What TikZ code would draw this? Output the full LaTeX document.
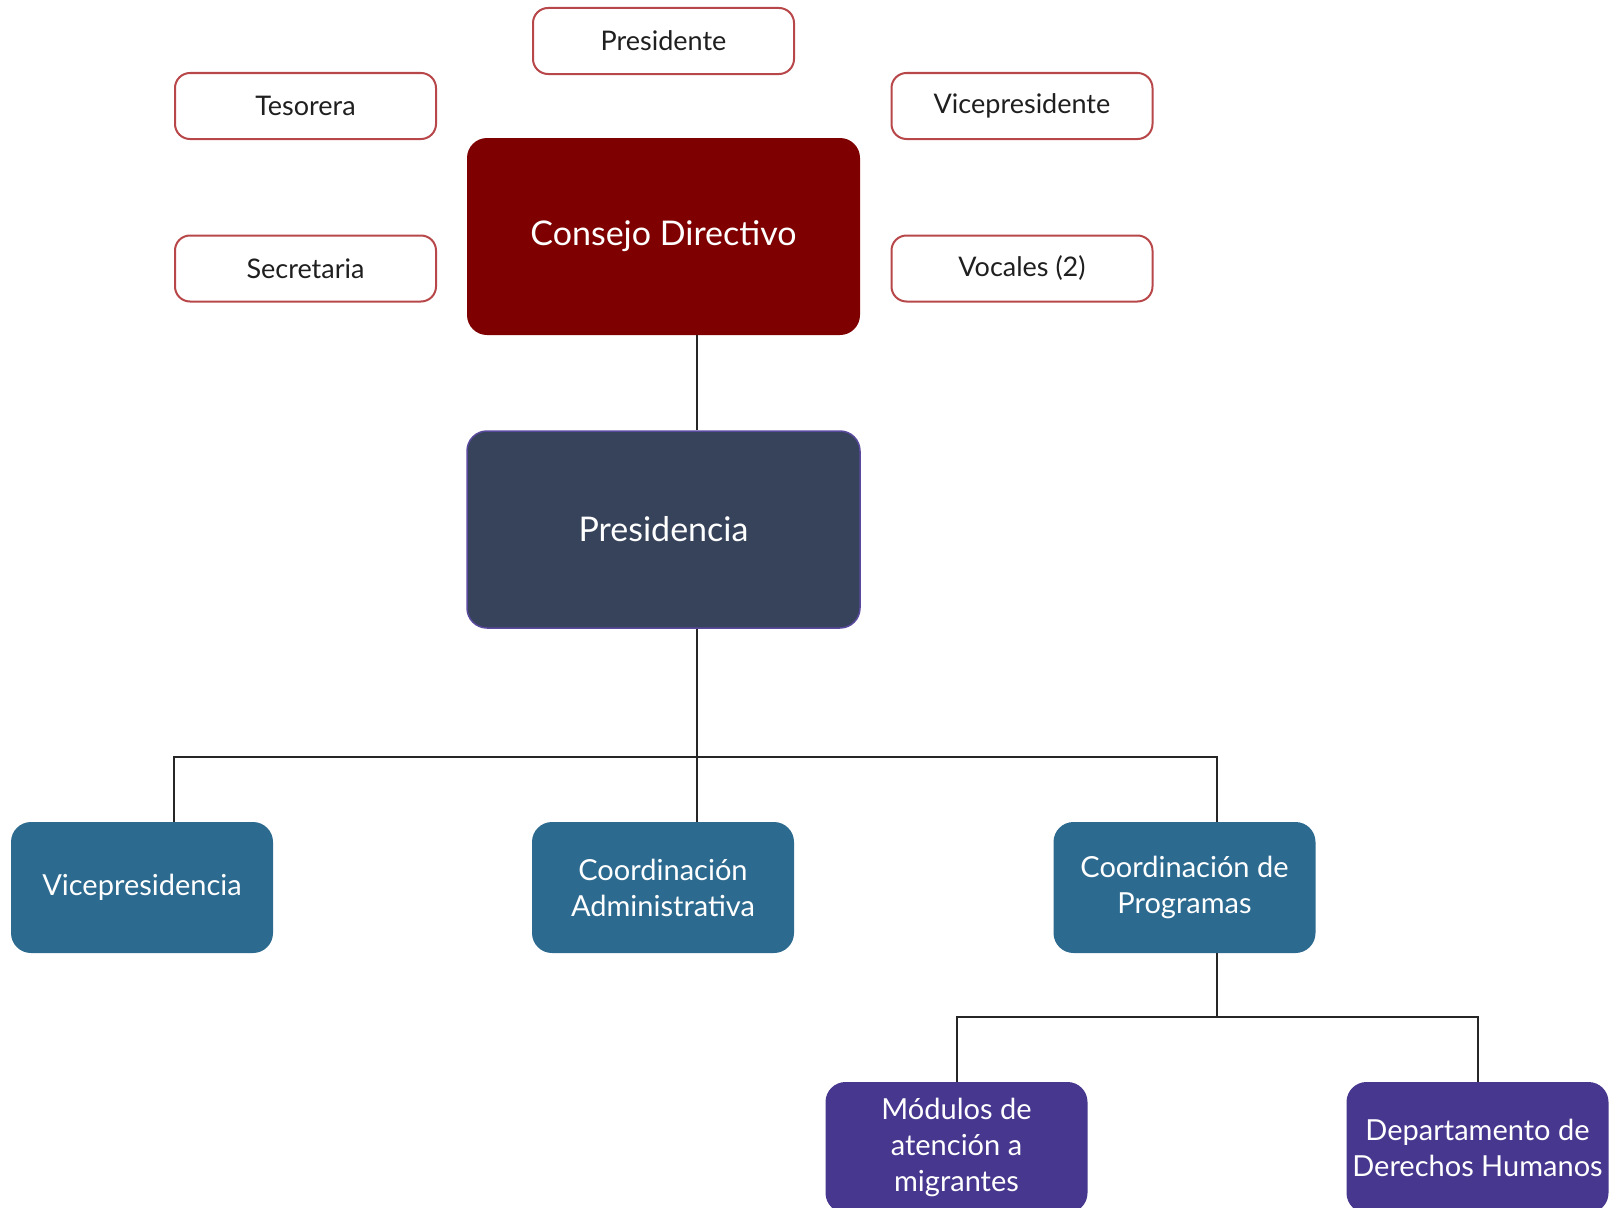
\documentclass[tikz,border=0pt]{standalone}
\usepackage{fontspec}
\setmainfont{Lato}
\usetikzlibrary{positioning}

\definecolor{consejored}{HTML}{7F0000}
\definecolor{presslate}{HTML}{36435A}
\definecolor{presedge}{HTML}{5A4A9E}
\definecolor{unitblue}{HTML}{2C6A8F}
\definecolor{subpurple}{HTML}{47378E}
\definecolor{officeredge}{HTML}{B8474A}

\tikzset{
  officerbox/.style={draw=officeredge, line width=2pt, fill=white, rounded corners=15pt,
    minimum width=261pt, minimum height=66pt, inner sep=0pt, text=black!88,
    font=\fontsize{27}{32}\selectfont},
  headbox/.style={rounded corners=20pt, minimum width=393pt, minimum height=197pt,
    inner sep=0pt, text=white, font=\fontsize{34}{40}\selectfont},
  unitbox/.style={fill=unitblue, rounded corners=20pt, minimum width=262pt, minimum height=131pt,
    inner sep=0pt, text=white, align=center, font=\fontsize{29}{36}\selectfont},
  subunitbox/.style={unitbox, fill=subpurple},
  link/.style={black!85, line width=2pt}
}

\begin{document}
\begin{tikzpicture}[x=1pt, y=-1pt]
\useasboundingbox (0,0) rectangle (1611,1207);

% consejo directivo y cargos
\node[headbox, fill=consejored] (consejo) at (663.5, 236.5){Consejo Directivo};
\node[officerbox] (presidente) at (663.5, 41){Presidente};
\node[officerbox] (tesorera) at (305.5, 106){Tesorera};
\node[officerbox] (secretaria) at (305.5, 268.5){Secretaria};
\node[officerbox] (vicepresidente) at (1022, 106){Vicepresidente};
\node[officerbox] (vocales) at (1022, 268.5){Vocales (2)};

\node[headbox, fill=presslate, draw=presedge, line width=1.5pt] (presidencia) at (663.5, 529.5){Presidencia};

% areas
\node[unitbox] (vicepresidencia) at (142, 887.5){Vicepresidencia};
\node[unitbox] (coordadmin) at (663, 887.5){Coordinación\\Administrativa};
\node[unitbox] (coordprog) at (1184.5, 887.5){Coordinación de\\Programas};
\node[subunitbox] (modulos) at (956.5, 1147.5){Módulos de\\atención a\\migrantes};
\node[subunitbox] (derechos) at (1477.5, 1147.5){Departamento de\\Derechos Humanos};

\coordinate (trunk) at (697, 757);
\coordinate (busleft) at (174, 757);
\coordinate (busright) at (1217, 757);
\coordinate (subbus) at (1217, 1017);

\draw[link] (consejo.south -| trunk) -- (presidencia.north -| trunk);
\draw[link] (presidencia.south -| trunk) -- (coordadmin.north -| trunk);
\draw[link] (vicepresidencia.north -| busleft) -- (busleft) -- (busright) -- (coordprog.north -| busright);
\draw[link] (coordprog.south -| subbus) -- (subbus);
\draw[link] (modulos.north) |- (subbus) -| (derechos.north);
\end{tikzpicture}
\end{document}
